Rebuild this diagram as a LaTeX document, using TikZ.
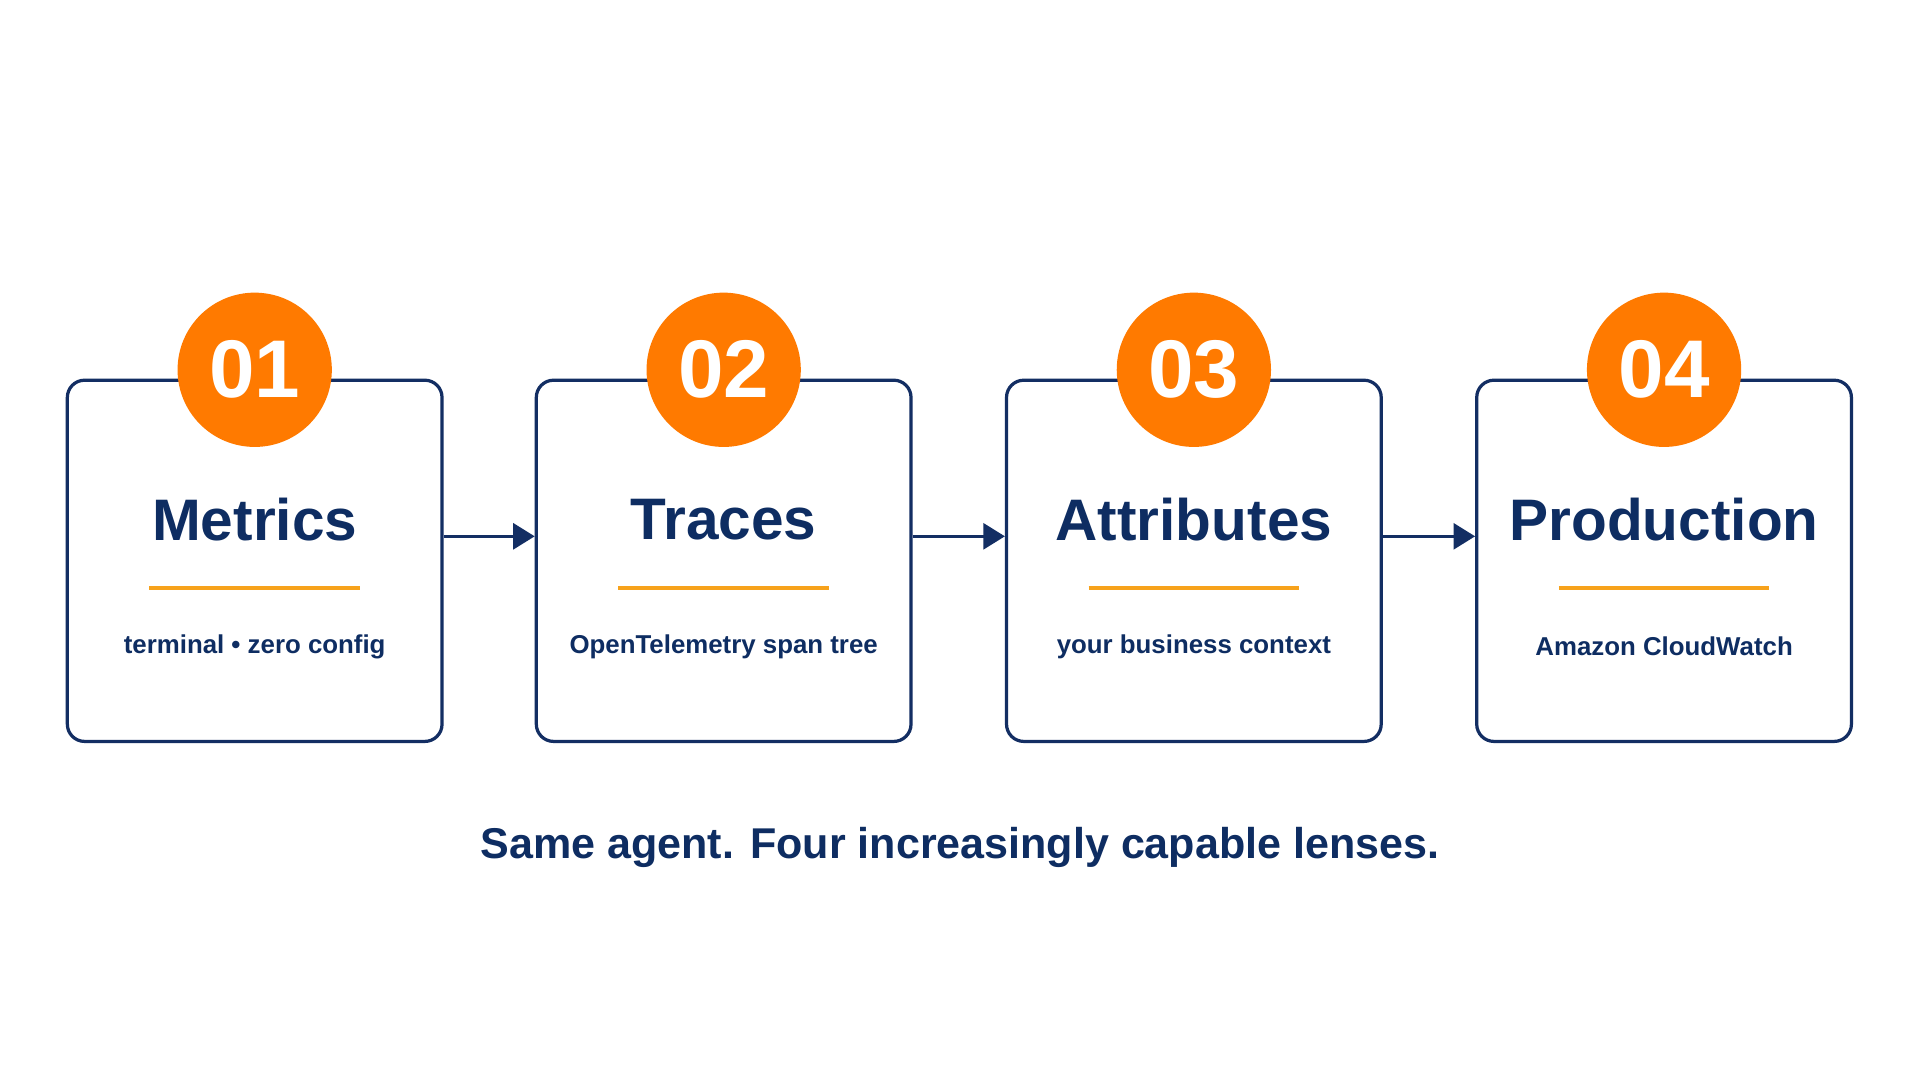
\documentclass[tikz,border=0pt]{standalone}
\usepackage{fontspec}
\setmainfont{Liberation Sans}
\usetikzlibrary{arrows.meta}
\definecolor{navy}{HTML}{132E63}
\definecolor{txt}{HTML}{0E2D62}
\definecolor{org}{HTML}{FF7A00}
\definecolor{uline}{HTML}{F7A21B}
\begin{document}
\begin{tikzpicture}[x=0.01cm,y=-0.01cm,
  box/.style={draw=navy,line width=0.75pt,rounded corners=4pt,fill=white,minimum width=306*0.01cm,minimum height=295*0.01cm,inner sep=0},
  num/.style={circle,fill=org,minimum size=126*0.01cm,inner sep=0,text=white,font=\fontsize{19}{19}\selectfont\bfseries},
  ttl/.style={text=txt,font=\fontsize{13.6}{14}\selectfont\bfseries},
  sub/.style={text=txt,font=\fontsize{6}{6}\selectfont\bfseries},
  arr/.style={draw=navy,line width=0.75pt,-{Triangle[length=5pt,width=6pt]}}]
\path[use as bounding box,fill=white] (0,0) rectangle (1568,882);
\foreach \i/\x/\t/\s in {1/208/Metrics/{terminal • zero config},2/591/Traces/{OpenTelemetry span tree},3/975/Attributes/{your business context},4/1359/Production/{Amazon CloudWatch}}{
  \node[box] (b\i) at (\x,458) {};
  \node[num] (n\i) at (\x,302) {0\i};
  \node[ttl] (t\i) at (\x,424) {\t};
  \draw[uline,line width=1pt] (\x-86,480) -- (\x+86,480);
  \node[sub] (s\i) at (\x,528) {\s};
}
\draw[arr] (b1.east |- 0,438) -- (b2.west |- 0,438);
\draw[arr] (b2.east |- 0,438) -- (b3.west |- 0,438);
\draw[arr] (b3.east |- 0,438) -- (b4.west |- 0,438);
\node[text=txt,font=\fontsize{10}{10}\selectfont\bfseries] (cap) at (784,692) {Same agent. Four increasingly capable lenses.};
\end{tikzpicture}
\end{document}
